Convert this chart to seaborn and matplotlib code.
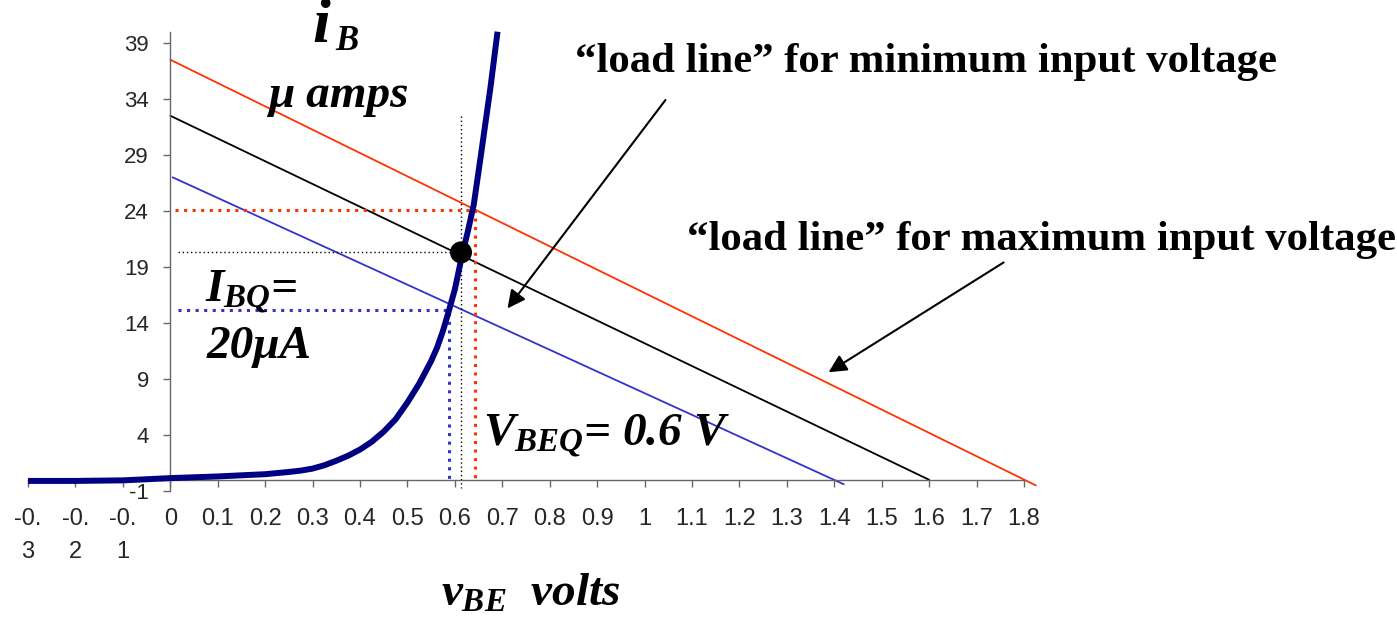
import matplotlib
matplotlib.use("Agg")
import matplotlib.pyplot as plt
import seaborn as sns

# diode input characteristic
vbe = [-0.3, -0.2, -0.1, 0.0, 0.1, 0.2, 0.25, 0.275, 0.3, 0.325, 0.35, 0.375,
       0.4, 0.425, 0.45, 0.475, 0.5, 0.525, 0.55, 0.5625, 0.575, 0.5875, 0.6,
       0.615, 0.6275, 0.64, 0.655, 0.665, 0.675, 0.69]
ib = [-0.1, -0.1, -0.05, 0.15, 0.3, 0.5, 0.7, 0.82, 1.0, 1.3, 1.7, 2.15,
      2.7, 3.4, 4.3, 5.4, 6.9, 8.6, 10.6, 11.8, 13.3, 15.1, 17.0,
      20.0, 22.2, 24.6, 29.0, 32.0, 35.0, 40.0]

# load lines: (x start, x end), (y start, y end)
load_max_x = [0.0, 1.825]
load_max_y = [37.5, -0.5]
load_q_x = [0.0, 1.6]
load_q_y = [32.5, 0.0]
load_min_x = [0.005, 1.42]
load_min_y = [27.0, -0.4]

# operating points
q_max = (0.643, 24.1)
q_nom = (0.613, 20.3)
q_min = (0.588, 15.2)

x_ticks = [round(-0.3 + 0.1 * i, 1) for i in range(22)]
x_labels = ["-0.\n3", "-0.\n2", "-0.\n1", "0", "0.1", "0.2", "0.3", "0.4", "0.5",
            "0.6", "0.7", "0.8", "0.9", "1", "1.1", "1.2", "1.3", "1.4", "1.5",
            "1.6", "1.7", "1.8"]
y_ticks = [-1, 4, 9, 14, 19, 24, 29, 34, 39]

RED = "#ff3300"
BLUE = "#3333cc"
NAVY = "#000080"
AXIS = "#666666"

sns.set_style("white")
plt.rcParams["font.family"] = ["Liberation Sans", "DejaVu Sans"]
plt.rcParams["axes.unicode_minus"] = False
plt.rcParams["mathtext.fontset"] = "custom"
plt.rcParams["mathtext.rm"] = "Liberation Serif:bold:italic"
plt.rcParams["mathtext.it"] = "Liberation Serif:bold:italic"
plt.rcParams["mathtext.bf"] = "Liberation Serif:bold:italic"

fig = plt.figure(figsize=(13.97, 6.22), dpi=100)
ax = fig.add_axes([0.02004, 0.21061, 0.71296, 0.73842])


def path(xs, ys, **kw):
    # plain polyline, no aggregation over repeated x
    sns.lineplot(x=xs, y=ys, ax=ax, sort=False, estimator=None, errorbar=None, **kw)


path(load_max_x, load_max_y, color=RED, lw=1.3, clip_on=False)
path(load_q_x, load_q_y, color="black", lw=1.3, clip_on=False)
path(load_min_x, load_min_y, color=BLUE, lw=1.3, clip_on=False)

dots = (0, (1, 1.8))
path([0.01, q_max[0], q_max[0]], [q_max[1], q_max[1], 0.0], color=RED, lw=2.2,
     linestyle=dots)
path([0.017, q_min[0], q_min[0]], [q_min[1], q_min[1], 0.0], color=BLUE, lw=2.2,
     linestyle=dots)
path([0.017, q_nom[0]], [q_nom[1], q_nom[1]], color="black", lw=1.0,
     linestyle=(0, (1, 2)))
path([q_nom[0], q_nom[0]], [32.5, -0.7], color="black", lw=1.0,
     linestyle=(0, (1, 2)), clip_on=False)

path(vbe, ib, color=NAVY, lw=4.3, zorder=4, clip_on=False,
     solid_joinstyle="round", solid_capstyle="butt")
sns.scatterplot(x=[q_nom[0]], y=[q_nom[1]], ax=ax, color="black", s=250,
                zorder=6, edgecolor="none")

ax.set_xlim(-0.3, 1.8)
ax.set_ylim(-1, 40)
ax.spines["left"].set_position(("data", 0))
ax.spines["bottom"].set_position(("data", 0))
for side in ["top", "right"]:
    ax.spines[side].set_visible(False)
for side in ["left", "bottom"]:
    ax.spines[side].set_color(AXIS)
    ax.spines[side].set_linewidth(1.0)

ax.set_xticks(x_ticks)
ax.set_xticklabels(x_labels, linespacing=1.65)
ax.set_yticks(y_ticks)
ax.tick_params(axis="x", direction="out", length=5, width=1.0, color=AXIS,
               pad=15, labelsize=17, bottom=True)
ax.tick_params(axis="y", direction="out", length=5, width=1.0, color=AXIS,
               pad=10.5, labelsize=16, left=True)
ax.set_xlabel("")
ax.set_ylabel("")

serif = dict(family="Liberation Serif", weight="bold", color="black")
ax.text(0.854, 36.4, "\u201cload line\u201d for minimum input voltage", fontsize=30.8,
        va="baseline", ha="left", **serif)
ax.text(1.09, 20.5, "\u201cload line\u201d for maximum input voltage", fontsize=30.8,
        va="baseline", ha="left", **serif)

ital = dict(family="Liberation Serif", weight="bold", style="italic", color="black")
ax.text(0.30, 39.1, "i", fontsize=46, va="baseline", ha="left", clip_on=False, **ital)
ax.text(0.347, 38.4, "B", fontsize=25, va="baseline", ha="left", **ital)
ax.text(0.207, 33.3, "\u03bc amps", fontsize=34, va="baseline", ha="left", **ital)
ax.text(0.074, 15.9, r"$I_{BQ}$=", fontsize=34, va="baseline", ha="left", **ital)
ax.text(0.076, 10.9, "20\u03bcA", fontsize=34, va="baseline", ha="left", **ital)
ax.text(0.66, 3.1, r"$V_{BEQ}$= 0.6 V", fontsize=34, va="baseline", ha="left", **ital)
ax.text(0.57, -11.2, r"$v_{BE}$  volts", fontsize=34, va="baseline", ha="left", **ital)

arrow = dict(arrowstyle="-|>,head_length=0.6,head_width=0.3", color="black",
             lw=1.5, mutation_scale=18, shrinkA=0, shrinkB=0)
ax.annotate("", xy=(0.711, 15.3), xytext=(1.044, 33.9), arrowprops=arrow)
ax.annotate("", xy=(1.388, 9.6), xytext=(1.757, 19.4), arrowprops=arrow,
            annotation_clip=False)

fig.savefig("out.png", dpi=100)
